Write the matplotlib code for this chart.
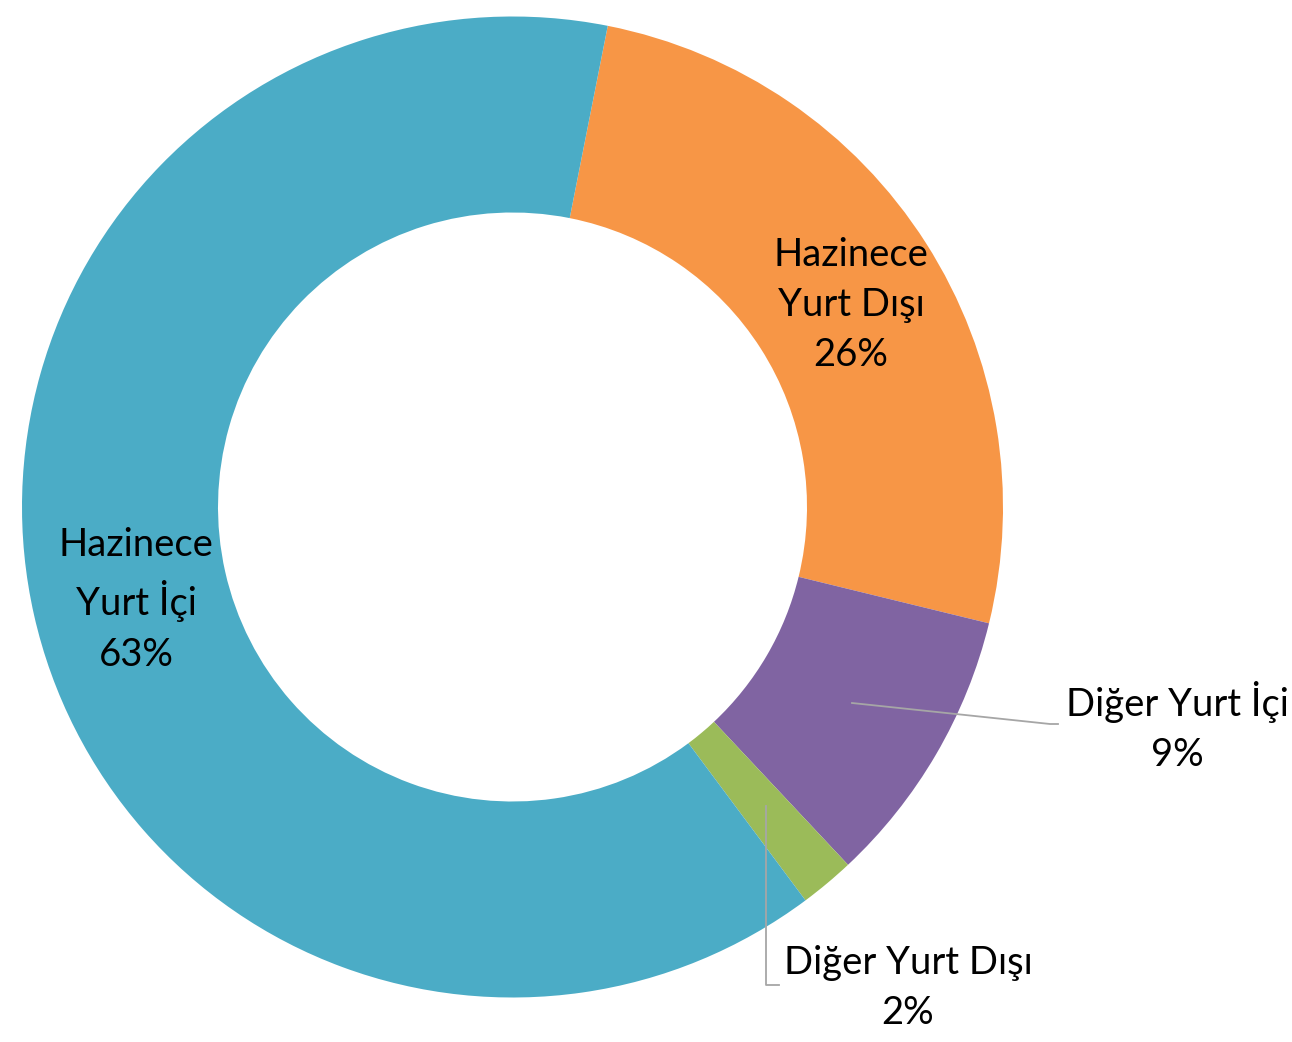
import matplotlib
matplotlib.use("Agg")
import matplotlib.pyplot as plt

# Data (clockwise from the orange slice)
categories = ["Hazinece\nYurt Dışı", "Diğer Yurt İçi", "Diğer Yurt Dışı", "Hazinece\nYurt İçi"]
values = [25.7, 9.2, 1.8, 63.3]
colors = ["#F79646", "#8064A2", "#9BBB59", "#4BACC6"]

W, H = 1292, 1042
fig = plt.figure(figsize=(W / 100, H / 100), dpi=100)
ax = fig.add_axes([0, 0, 1, 1])

cx, cy = 512.5, H - 507
R_out, R_in = 490.5, 294.5

wedges, _ = ax.pie(values, colors=colors, startangle=90 - 11.2, counterclock=False,
                   center=(cx, cy), radius=R_out,
                   wedgeprops=dict(width=R_out - R_in, linewidth=0))
ax.set_xlim(0, W)
ax.set_ylim(0, H)
ax.set_aspect("equal")
ax.axis("off")

total = sum(values)
font = dict(family=["Lato", "DejaVu Sans"], fontsize=27.5, color="black",
            ha="center", va="center", linespacing=1.5)

# label positions (pixel coordinates from top-left)
label_pos = [(851, 305), (1177, 727), (908, 988), (136, 600)]
for cat, v, (lx, ly) in zip(categories, values, label_pos):
    txt = f"{cat}\n{round(v / total * 100):.0f}%"
    ax.text(lx, H - ly, txt, **font)

# leader lines
lc = "#A6A6A6"
ax.plot([852, 1050, 1058], [H - 703, H - 724, H - 724], color=lc, lw=1.3)
ax.plot([766, 766, 779], [H - 806, H - 985, H - 985], color=lc, lw=1.3)

fig.savefig("out.png", dpi=100)
